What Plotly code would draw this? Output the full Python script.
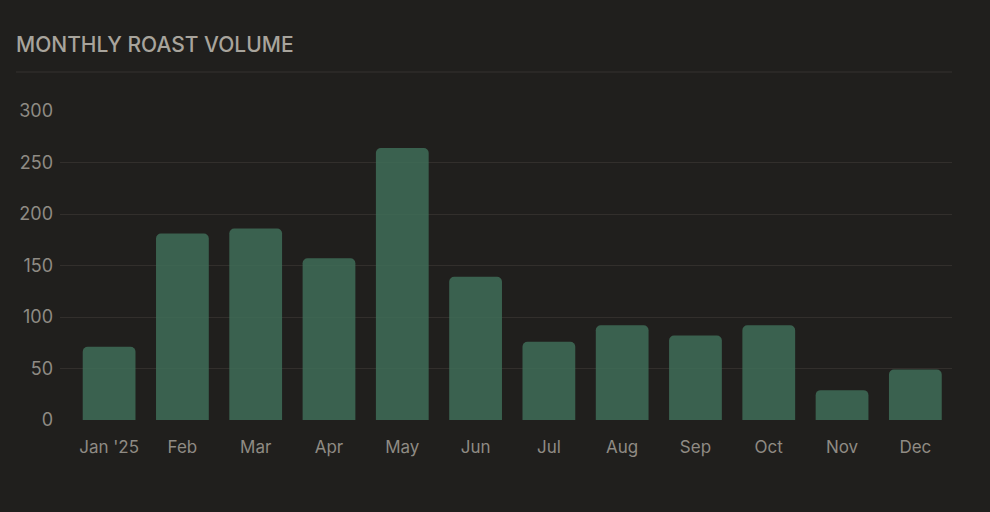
import plotly.graph_objects as go

months = ["Jan '25", "Feb", "Mar", "Apr", "May", "Jun",
          "Jul", "Aug", "Sep", "Oct", "Nov", "Dec"]
roast_volume = [71, 181, 186, 157, 264, 139, 76, 92, 82, 92, 29, 49]
y_ticks = [0, 50, 100, 150, 200, 250, 300]

BG = "#201f1d"
GRID = "#322f2c"
TEXT = "#8f8b84"
FONT = "Inter, Lato, sans-serif"

fig = go.Figure()
fig.add_trace(go.Bar(
    x=list(range(len(months))), y=roast_volume,
    width=0.72,
    marker=dict(color="rgba(63,109,88,0.85)", line=dict(width=0)),
    hovertemplate="%{customdata}: %{y}<extra></extra>",
    customdata=months,
))

fig.update_layout(
    width=990, height=512,
    paper_bgcolor=BG, plot_bgcolor=BG,
    margin=dict(l=60, r=38, t=111, b=92),
    barcornerradius=5,
    showlegend=False,
    font=dict(family=FONT, color=TEXT, size=17),
    xaxis=dict(
        range=[-0.67, 11.5],
        tickmode="array", tickvals=list(range(len(months))), ticktext=months,
        showgrid=False, zeroline=False, showline=False,
        ticks="outside", ticklen=12, tickcolor=BG,
        tickfont=dict(size=17, color=TEXT),
        fixedrange=True,
    ),
    yaxis=dict(
        range=[0, 300],
        tickmode="array", tickvals=y_ticks,
        showgrid=True, gridcolor=GRID, gridwidth=1,
        zeroline=False, showline=False,
        ticks="", ticklabelstandoff=6,
        tickfont=dict(size=18, color=TEXT),
        fixedrange=True,
    ),
    annotations=[dict(
        text="MONTHLY ROAST VOLUME", xref="paper", yref="paper",
        x=-46 / 892, y=1 + 67 / 309, xanchor="left", yanchor="middle",
        showarrow=False,
        font=dict(family=FONT, size=21, color="#a8a49c", weight=500),
    )],
    shapes=[dict(
        type="line", xref="paper", yref="paper",
        x0=-44 / 892, x1=1, y0=1 + 39 / 309, y1=1 + 39 / 309,
        line=dict(color="#353330", width=1),
    )],
)

fig.write_html("out.html", config={"displayModeBar": False},
               post_script="document.body.style.margin='0';")
